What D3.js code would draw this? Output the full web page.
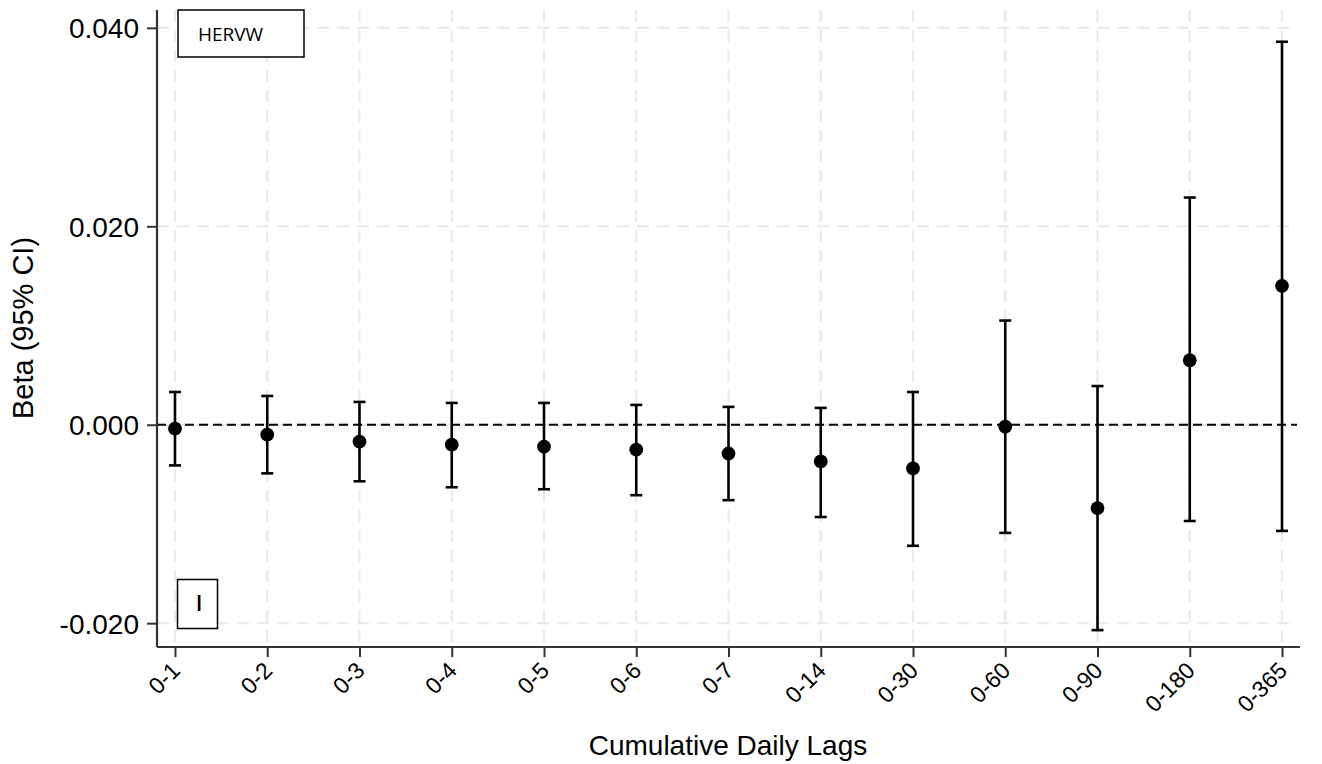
<!DOCTYPE html>
<html>
<head>
<meta charset="utf-8">
<script src="https://cdn.jsdelivr.net/npm/d3@7/dist/d3.min.js"></script>
<style>
  html, body { margin: 0; padding: 0; background: #fff; }
  svg { display: block; }
  text { font-family: "Liberation Sans", Arial, sans-serif; fill: #000; }
</style>
</head>
<body>
<svg id="chart" width="1322" height="764"></svg>
<script>
// Cumulative daily lag windows
const lags = ["0-1", "0-2", "0-3", "0-4", "0-5", "0-6", "0-7", "0-14", "0-30", "0-60", "0-90", "0-180", "0-365"];
// Point estimates (beta) and 95% confidence bounds
const beta  = [-0.0004, -0.0010, -0.0017, -0.0020, -0.0022, -0.0025, -0.0029, -0.0037, -0.0044, -0.0002, -0.0084, 0.0065, 0.0140];
const lower = [-0.0041, -0.0049, -0.0057, -0.0063, -0.0065, -0.0071, -0.0076, -0.0093, -0.0122, -0.0109, -0.0207, -0.0097, -0.0107];
const upper = [ 0.0033,  0.0029,  0.0023,  0.0022,  0.0022,  0.0020,  0.0018,  0.0017,  0.0033,  0.0105,  0.0039,  0.0229,  0.0386];
const yTicks = [-0.02, 0.0, 0.02, 0.04];

const svg = d3.select("#chart");
const plotL = 157, plotR = 1300, plotT = 10, plotB = 647;

const x = d3.scalePoint().domain(lags).range([plotL, plotR]).padding(0.195);
const y = d3.scaleLinear().domain([-0.0224, 0.0418]).range([plotB, plotT]);

// Grid lines
const grid = svg.append("g").attr("stroke", "#e8e8e8").attr("stroke-width", 2)
  .attr("stroke-dasharray", "12,8").attr("fill", "none");
grid.selectAll("line.v").data(lags).join("line").attr("class", "v")
  .attr("x1", d => x(d)).attr("x2", d => x(d)).attr("y1", plotT).attr("y2", plotB);
grid.selectAll("line.h").data(yTicks).join("line").attr("class", "h")
  .attr("x1", plotL).attr("x2", plotR - 6).attr("y1", d => y(d)).attr("y2", d => y(d));

// Reference line at zero
svg.append("line")
  .attr("x1", plotL).attr("x2", plotR - 3).attr("y1", y(0)).attr("y2", y(0))
  .attr("stroke", "#000").attr("stroke-width", 2).attr("stroke-dasharray", "9,5");

// Y axis (plain hyphen for negatives)
const fmt = d => d3.format(".3f")(d).replace("\u2212", "-");
const yAxis = svg.append("g").attr("transform", `translate(${plotL},0)`)
  .call(d3.axisLeft(y).tickValues(yTicks).tickFormat(fmt).tickSize(10).tickSizeOuter(0));
yAxis.select(".domain").attr("stroke", "#333").attr("stroke-width", 2.2).attr("d", `M0,${plotT}V${plotB}`);
yAxis.selectAll(".tick line").attr("stroke", "#333").attr("stroke-width", 2);
yAxis.selectAll(".tick text").attr("x", -18).attr("dy", "0.36em")
  .style("font-size", "28px").style("font-family", "'Liberation Sans', Arial, sans-serif").attr("fill", "#000");

// X axis
const xAxis = svg.append("g").attr("transform", `translate(0,${plotB})`)
  .call(d3.axisBottom(x).tickSize(10).tickSizeOuter(0));
xAxis.select(".domain").attr("stroke", "#333").attr("stroke-width", 2.2).attr("d", `M${plotL},0H${plotR}`);
xAxis.selectAll(".tick line").attr("stroke", "#333").attr("stroke-width", 2);
xAxis.selectAll(".tick text")
  .attr("y", 0).attr("dy", 0)
  .attr("text-anchor", "end")
  .attr("transform", "translate(6,25) rotate(-45)")
  .style("font-size", "23px").style("font-family", "'Liberation Sans', Arial, sans-serif").attr("fill", "#000");

// Error bars with caps
const idx = d3.range(lags.length);
const bars = svg.append("g").attr("stroke", "#000").attr("stroke-width", 2.6).attr("fill", "none");
bars.selectAll("line.ci").data(idx).join("line").attr("class", "ci")
  .attr("x1", i => x(lags[i])).attr("x2", i => x(lags[i]))
  .attr("y1", i => y(lower[i])).attr("y2", i => y(upper[i]));
bars.selectAll("line.capU").data(idx).join("line").attr("class", "capU")
  .attr("x1", i => x(lags[i]) - 6).attr("x2", i => x(lags[i]) + 6)
  .attr("y1", i => y(upper[i])).attr("y2", i => y(upper[i]));
bars.selectAll("line.capL").data(idx).join("line").attr("class", "capL")
  .attr("x1", i => x(lags[i]) - 6).attr("x2", i => x(lags[i]) + 6)
  .attr("y1", i => y(lower[i])).attr("y2", i => y(lower[i]));

// Point estimates
svg.append("g").selectAll("circle").data(idx).join("circle")
  .attr("cx", i => x(lags[i])).attr("cy", i => y(beta[i])).attr("r", 6.9).attr("fill", "#000");

// Panel labels
svg.append("rect").attr("x", 178).attr("y", 10).attr("width", 126).attr("height", 47)
  .attr("fill", "#fff").attr("stroke", "#000").attr("stroke-width", 1.5);
svg.append("text").attr("x", 198).attr("y", 41).text("HERVW")
  .style("font-family", "'Open Sans', sans-serif").style("font-size", "19px");
svg.append("rect").attr("x", 177.5).attr("y", 579.5).attr("width", 40).attr("height", 49)
  .attr("fill", "#fff").attr("stroke", "#000").attr("stroke-width", 1.5);
svg.append("text").attr("x", 199).attr("y", 611).attr("text-anchor", "middle").text("I")
  .style("font-family", "'Open Sans', sans-serif").style("font-size", "22px").style("font-weight", "600");

// Axis titles
svg.append("text").attr("x", 728).attr("y", 755).attr("text-anchor", "middle")
  .style("font-size", "28px").text("Cumulative Daily Lags");
svg.append("text").attr("transform", "translate(33,328) rotate(-90)").attr("text-anchor", "middle")
  .style("font-size", "29px").text("Beta (95% CI)");
</script>
</body>
</html>
